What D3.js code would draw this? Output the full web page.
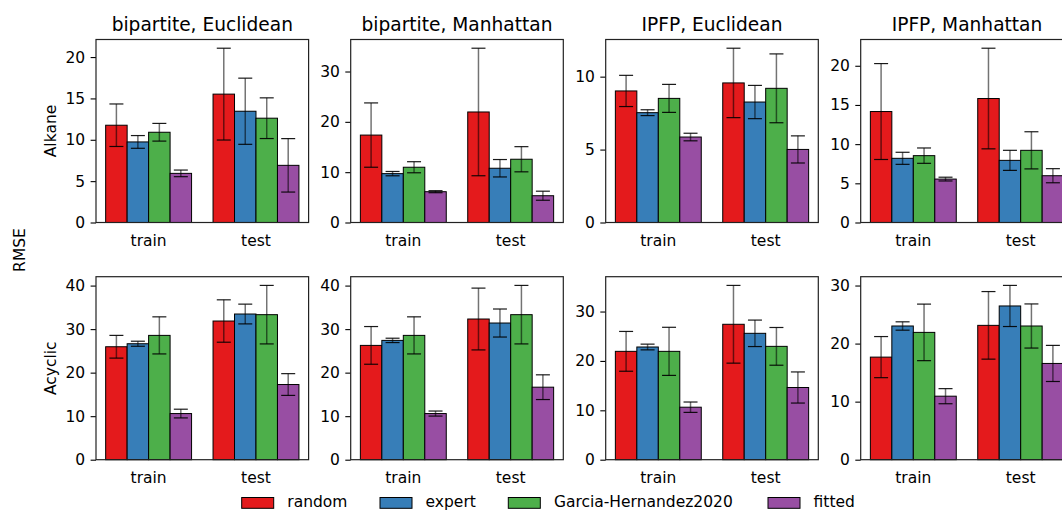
<!DOCTYPE html>
<html>
<head>
<meta charset="utf-8">
<script src="https://cdn.jsdelivr.net/npm/d3@7"></script>
<style>
  html, body { margin: 0; padding: 0; background: #fff; }
  svg { display: block; font-family: "DejaVu Sans", sans-serif; }
</style>
</head>
<body>
<svg id="chart" width="1062" height="511"></svg>
<script>
// ---------------- data ----------------
const methods = ["random", "expert", "Garcia-Hernandez2020", "fitted"];
const methodColors = ["#e41a1c", "#377eb8", "#4daf4a", "#984ea3"];
const splits = ["train", "test"];
const panelTitles = ["bipartite, Euclidean", "bipartite, Manhattan", "IPFP, Euclidean", "IPFP, Manhattan"];
const rowLabels = ["Alkane", "Acyclic"];

// [panel][split][method]
const alkaneMean = [
  [[11.76, 9.74, 10.91, 5.94], [15.52, 13.45, 12.61, 6.91]],
  [[17.37, 9.71, 10.98, 6.12], [21.96, 10.78, 12.57, 5.32]],
  [[9.02, 7.53, 8.51, 5.86], [9.57, 8.26, 9.20, 5.01]],
  [[14.16, 8.19, 8.53, 5.54], [15.82, 7.93, 9.21, 5.97]]
];
const alkaneErr = [
  [[2.57, 0.77, 1.07, 0.40], [5.55, 4.00, 2.46, 3.23]],
  [[6.39, 0.43, 1.10, 0.20], [12.67, 1.73, 2.50, 0.90]],
  [[1.07, 0.20, 0.96, 0.26], [2.38, 1.14, 2.36, 0.93]],
  [[6.12, 0.77, 0.98, 0.24], [6.42, 1.28, 2.37, 0.90]]
];
const acyclicMean = [
  [[25.95, 26.64, 28.56, 10.60], [31.86, 33.47, 33.32, 17.27]],
  [[26.26, 27.41, 28.56, 10.60], [32.32, 31.40, 33.32, 16.66]],
  [[21.94, 22.82, 21.94, 10.63], [27.42, 25.59, 22.95, 14.62]],
  [[17.67, 23.03, 21.93, 10.94], [23.14, 26.48, 23.03, 16.58]]
];
const acyclicErr = [
  [[2.61, 0.58, 4.26, 1.00], [4.87, 2.27, 6.72, 2.50]],
  [[4.33, 0.50, 4.26, 0.58], [7.10, 3.22, 6.72, 2.84]],
  [[4.03, 0.58, 4.87, 1.05], [7.87, 2.68, 3.82, 3.15]],
  [[3.54, 0.72, 4.87, 1.30], [5.82, 3.54, 3.80, 3.11]]
];
const alkaneTicks = [[0, 5, 10, 15, 20], [0, 10, 20, 30], [0, 5, 10], [0, 5, 10, 15, 20]];
const acyclicTicks = [[0, 10, 20, 30, 40], [0, 10, 20, 30, 40], [0, 10, 20, 30], [0, 10, 20, 30]];

// ---------------- layout ----------------
const svg = d3.select("#chart");
const FS = 15.5, TITLE_FS = 18.6;
const axLeft = [96, 350.7, 605.7, 860.7];
const axW = 212.6, axH = 183;
const rowTop = [39.5, 276.7];
const barW = 0.2;
const legendX = [241.7, 380, 508.3, 768];

const rows = [
  { label: rowLabels[0], mean: alkaneMean, err: alkaneErr, ticks: alkaneTicks },
  { label: rowLabels[1], mean: acyclicMean, err: acyclicErr, ticks: acyclicTicks }
];

rows.forEach((row, r) => {
  for (let p = 0; p < 4; p++) {
    const g = svg.append("g").attr("transform", `translate(${axLeft[p]},${rowTop[r]})`);
    const means = row.mean[p], errs = row.err[p];
    let top = 0;
    means.forEach((s, si) => s.forEach((v, mi) => { top = Math.max(top, v + errs[si][mi]); }));
    const x = d3.scaleLinear().domain([-0.49, 1.49]).range([0, axW]);
    const y = d3.scaleLinear().domain([0, top * 1.05]).range([axH, 0]);

    const records = [];
    splits.forEach((s, si) => methods.forEach((m, mi) => {
      records.push({ si, mi, v: means[si][mi], e: errs[si][mi], c: si + (mi - 1.5) * barW });
    }));

    // bars
    g.selectAll("rect.bar").data(records).join("rect")
      .attr("class", "bar")
      .attr("x", d => x(d.c - barW / 2))
      .attr("width", d => x(barW) - x(0))
      .attr("y", d => y(d.v))
      .attr("height", d => y(0) - y(d.v))
      .attr("fill", d => methodColors[d.mi])
      .attr("stroke", "#000")
      .attr("stroke-width", 1);

    // error bars
    const eb = g.selectAll("g.eb").data(records).join("g").attr("class", "eb");
    eb.append("line")
      .attr("x1", d => x(d.c)).attr("x2", d => x(d.c))
      .attr("y1", d => y(d.v - d.e)).attr("y2", d => y(d.v + d.e))
      .attr("stroke", "#000").attr("stroke-opacity", 0.55).attr("stroke-width", 1.5);
    [-1, 1].forEach(sgn => {
      eb.append("line")
        .attr("x1", d => x(d.c) - 7).attr("x2", d => x(d.c) + 7)
        .attr("y1", d => y(d.v + sgn * d.e)).attr("y2", d => y(d.v + sgn * d.e))
        .attr("stroke", "#000").attr("stroke-opacity", 0.9).attr("stroke-width", 1.2);
    });

    // y axis
    const ya = g.append("g").call(d3.axisLeft(y).tickValues(row.ticks[p]).tickSize(5.4).tickPadding(5.4));
    ya.select(".domain").remove();
    ya.selectAll("line").attr("stroke", "#000").attr("stroke-width", 1.1);
    ya.selectAll("text").attr("font-size", FS).attr("font-family", "DejaVu Sans").attr("fill", "#000");

    // x tick labels
    g.selectAll("text.xt").data(splits).join("text")
      .attr("class", "xt")
      .attr("x", (d, i) => x(i))
      .attr("y", axH + 23)
      .attr("text-anchor", "middle")
      .attr("font-size", FS)
      .attr("fill", "#000")
      .text(d => d);

    // frame
    g.append("rect").attr("x", 0).attr("y", 0).attr("width", axW).attr("height", axH)
      .attr("fill", "none").attr("stroke", "#222").attr("stroke-width", 1.2);

    // titles on top row
    if (r === 0) {
      g.append("text").attr("x", axW / 2).attr("y", -9)
        .attr("text-anchor", "middle").attr("font-size", TITLE_FS).attr("fill", "#000")
        .text(panelTitles[p]);
    }
    // row label
    if (p === 0) {
      svg.append("text")
        .attr("transform", `translate(56,${rowTop[r] + axH / 2}) rotate(-90)`)
        .attr("text-anchor", "middle").attr("font-size", FS).attr("fill", "#000")
        .text(row.label);
    }
  }
});

// super y label
svg.append("text")
  .attr("transform", "translate(24.5,250) rotate(-90)")
  .attr("text-anchor", "middle").attr("font-size", FS).attr("fill", "#000")
  .text("RMSE");

// legend
const leg = svg.append("g");
methods.forEach((m, i) => {
  leg.append("rect").attr("x", legendX[i]).attr("y", 497.5).attr("width", 32).attr("height", 10.8)
    .attr("fill", methodColors[i]).attr("stroke", "#000").attr("stroke-width", 1);
  leg.append("text").attr("x", legendX[i] + 45.6).attr("y", 507.2)
    .attr("font-size", FS).attr("fill", "#000").text(m);
});
</script>
</body>
</html>
